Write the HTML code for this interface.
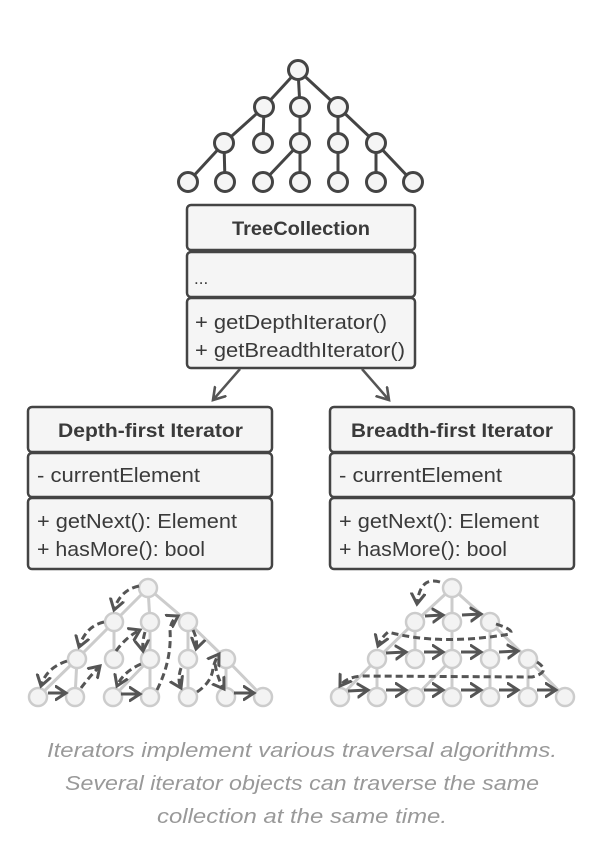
<!DOCTYPE html>
<html><head><meta charset="utf-8"><style>
html,body{margin:0;padding:0;background:#fff;width:601px;height:848px;overflow:hidden}
svg{display:block}
text{font-family:"Liberation Sans","DejaVu Sans",sans-serif;fill:#3a3a3a}
</style></head><body>
<svg width="601" height="848" viewBox="0 0 601 848" xmlns="http://www.w3.org/2000/svg">
<defs>
<marker id="ah" markerUnits="userSpaceOnUse" markerWidth="18" markerHeight="18" refX="11" refY="8" orient="auto">
<path d="M1,1.5 L11,8 L1,14.5" fill="none" stroke="#555" stroke-width="3" stroke-linecap="round"/>
</marker>
<marker id="ah2" markerUnits="userSpaceOnUse" markerWidth="20" markerHeight="20" refX="12" refY="8" orient="auto">
<path d="M1,1 L12,8 L1,15" fill="none" stroke="#555" stroke-width="2.6" stroke-linecap="round"/>
</marker>
</defs>

<!-- top tree -->
<g stroke="#444" stroke-width="3">
<line x1="298" y1="70" x2="264" y2="107"/><line x1="298" y1="70" x2="300" y2="107"/><line x1="298" y1="70" x2="338" y2="107"/>
<line x1="264" y1="107" x2="224" y2="143"/><line x1="264" y1="107" x2="263" y2="143"/>
<line x1="300" y1="107" x2="300" y2="143"/>
<line x1="338" y1="107" x2="338" y2="143"/><line x1="338" y1="107" x2="376" y2="143"/>
<line x1="224" y1="143" x2="188" y2="182"/><line x1="224" y1="143" x2="225" y2="182"/>
<line x1="300" y1="143" x2="263" y2="182"/><line x1="300" y1="143" x2="300" y2="182"/>
<line x1="338" y1="143" x2="338" y2="182"/>
<line x1="376" y1="143" x2="376" y2="182"/><line x1="376" y1="143" x2="413" y2="182"/>
</g>
<g stroke="#444" stroke-width="3" fill="#f5f5f5">
<circle cx="298" cy="70" r="9.5"/>
<circle cx="264" cy="107" r="9.5"/><circle cx="300" cy="107" r="9.5"/><circle cx="338" cy="107" r="9.5"/>
<circle cx="224" cy="143" r="9.5"/><circle cx="263" cy="143" r="9.5"/><circle cx="300" cy="143" r="9.5"/><circle cx="338" cy="143" r="9.5"/><circle cx="376" cy="143" r="9.5"/>
<circle cx="188" cy="182" r="9.5"/><circle cx="225" cy="182" r="9.5"/><circle cx="263" cy="182" r="9.5"/><circle cx="300" cy="182" r="9.5"/><circle cx="338" cy="182" r="9.5"/><circle cx="376" cy="182" r="9.5"/><circle cx="413" cy="182" r="9.5"/>
</g>

<!-- TreeCollection -->
<g stroke="#444" stroke-width="2.5" fill="#f5f5f5">
<rect x="187" y="205" width="228" height="45" rx="4"/>
<rect x="187" y="252" width="228" height="45" rx="4"/>
<rect x="187" y="298" width="228" height="70" rx="4"/>
</g>
<text x="232" y="235" font-size="19" font-weight="bold" textLength="138" lengthAdjust="spacingAndGlyphs">TreeCollection</text>
<text x="194" y="284" font-size="17">...</text>
<text x="195" y="329" font-size="20" textLength="192" lengthAdjust="spacingAndGlyphs">+ getDepthIterator()</text>
<text x="195" y="357" font-size="20" textLength="210" lengthAdjust="spacingAndGlyphs">+ getBreadthIterator()</text>

<!-- connectors -->
<line x1="240" y1="369" x2="213" y2="400" stroke="#555" stroke-width="2.5" marker-end="url(#ah2)"/>
<line x1="362" y1="369" x2="389" y2="400" stroke="#555" stroke-width="2.5" marker-end="url(#ah2)"/>

<!-- Iterator boxes -->
<g stroke="#444" stroke-width="2.5" fill="#f5f5f5">
<rect x="28" y="407" width="244" height="45" rx="4"/>
<rect x="28" y="453" width="244" height="44" rx="4"/>
<rect x="28" y="498" width="244" height="71" rx="4"/>
<rect x="330" y="407" width="244" height="45" rx="4"/>
<rect x="330" y="453" width="244" height="44" rx="4"/>
<rect x="330" y="498" width="244" height="71" rx="4"/>
</g>
<text x="58" y="437" font-size="19" font-weight="bold" textLength="185" lengthAdjust="spacingAndGlyphs">Depth-first Iterator</text>
<text x="37" y="482" font-size="20" textLength="163" lengthAdjust="spacingAndGlyphs">- currentElement</text>
<text x="37" y="528" font-size="20" textLength="200" lengthAdjust="spacingAndGlyphs">+ getNext(): Element</text>
<text x="37" y="556" font-size="20" textLength="168" lengthAdjust="spacingAndGlyphs">+ hasMore(): bool</text>
<text x="351" y="437" font-size="19" font-weight="bold" textLength="202" lengthAdjust="spacingAndGlyphs">Breadth-first Iterator</text>
<text x="339" y="482" font-size="20" textLength="163" lengthAdjust="spacingAndGlyphs">- currentElement</text>
<text x="339" y="528" font-size="20" textLength="200" lengthAdjust="spacingAndGlyphs">+ getNext(): Element</text>
<text x="339" y="556" font-size="20" textLength="168" lengthAdjust="spacingAndGlyphs">+ hasMore(): bool</text>

<!-- depth tree -->
<g stroke="#ccc" stroke-width="3">
<line x1="148" y1="588" x2="114" y2="622"/><line x1="148" y1="588" x2="150" y2="622"/><line x1="148" y1="588" x2="188" y2="622"/>
<line x1="114" y1="622" x2="77" y2="659"/><line x1="114" y1="622" x2="114" y2="659"/>
<line x1="150" y1="622" x2="150" y2="659"/>
<line x1="188" y1="622" x2="188" y2="659"/><line x1="188" y1="622" x2="226" y2="659"/>
<line x1="77" y1="659" x2="38" y2="697"/><line x1="77" y1="659" x2="75" y2="697"/>
<line x1="150" y1="659" x2="113" y2="697"/><line x1="150" y1="659" x2="150" y2="697"/>
<line x1="188" y1="659" x2="188" y2="697"/>
<line x1="226" y1="659" x2="226" y2="697"/><line x1="226" y1="659" x2="263" y2="697"/>
</g>
<g stroke="#ccc" stroke-width="2.5" fill="#f3f3f3">
<circle cx="148" cy="588" r="9"/>
<circle cx="114" cy="622" r="9"/><circle cx="150" cy="622" r="9"/><circle cx="188" cy="622" r="9"/>
<circle cx="77" cy="659" r="9"/><circle cx="114" cy="659" r="9"/><circle cx="150" cy="659" r="9"/><circle cx="188" cy="659" r="9"/><circle cx="226" cy="659" r="9"/>
<circle cx="38" cy="697" r="9"/><circle cx="75" cy="697" r="9"/><circle cx="113" cy="697" r="9"/><circle cx="150" cy="697" r="9"/><circle cx="188" cy="697" r="9"/><circle cx="226" cy="697" r="9"/><circle cx="263" cy="697" r="9"/>
</g>
<g stroke="#555" stroke-width="3" fill="none" stroke-dasharray="7,4" marker-end="url(#ah)">
<path d="M139,586 Q120,590 114,610"/>
<path d="M104,622 Q86,626 79,647"/>
<path d="M67,661 Q46,668 41,686"/>
<path d="M48,693 L66,693" stroke-dasharray="none"/>
<path d="M81,688 Q90,676 100,666"/>
<path d="M116,651 Q126,637 140,630"/>
<path d="M145,632 Q142,642 143,651"/>
<path d="M141,664 Q123,672 117,686"/>
<path d="M121,694 L140,694" stroke-dasharray="none"/>
<path d="M157,690 Q172,660 170,630 Q171,620 178,616"/>
<path d="M193,630 Q198,640 196,649"/>
<path d="M181,668 Q177,680 181,688"/>
<path d="M197,692 Q212,682 213,668 Q215,660 219,654"/>
<path d="M215,664 Q218,680 224,689"/>
<path d="M234,693 L254,693" stroke-dasharray="none"/>
</g>

<!-- breadth tree -->
<g stroke="#ccc" stroke-width="3">
<line x1="452" y1="588" x2="415" y2="622"/><line x1="452" y1="588" x2="452" y2="622"/><line x1="452" y1="588" x2="490" y2="622"/>
<line x1="415" y1="622" x2="377" y2="659"/><line x1="415" y1="622" x2="415" y2="659"/>
<line x1="452" y1="622" x2="452" y2="659"/>
<line x1="490" y1="622" x2="490" y2="659"/><line x1="490" y1="622" x2="528" y2="659"/>
<line x1="377" y1="659" x2="340" y2="697"/><line x1="377" y1="659" x2="377" y2="697"/>
<line x1="452" y1="659" x2="415" y2="697"/><line x1="452" y1="659" x2="452" y2="697"/>
<line x1="490" y1="659" x2="490" y2="697"/>
<line x1="528" y1="659" x2="528" y2="697"/><line x1="528" y1="659" x2="565" y2="697"/>
</g>
<g stroke="#ccc" stroke-width="2.5" fill="#f3f3f3">
<circle cx="452" cy="588" r="9"/>
<circle cx="415" cy="622" r="9"/><circle cx="452" cy="622" r="9"/><circle cx="490" cy="622" r="9"/>
<circle cx="377" cy="659" r="9"/><circle cx="415" cy="659" r="9"/><circle cx="452" cy="659" r="9"/><circle cx="490" cy="659" r="9"/><circle cx="528" cy="659" r="9"/>
<circle cx="340" cy="697" r="9"/><circle cx="377" cy="697" r="9"/><circle cx="415" cy="697" r="9"/><circle cx="452" cy="697" r="9"/><circle cx="490" cy="697" r="9"/><circle cx="528" cy="697" r="9"/><circle cx="565" cy="697" r="9"/>
</g>
<g stroke="#555" stroke-width="3" fill="none" marker-end="url(#ah)">
<path d="M440,582 Q420,576 417,604" stroke-dasharray="7,4"/>
<path d="M496,624 Q515,630 510,634 Q440,646 388,632 Q381,638 378,646" stroke-dasharray="7,4"/>
<path d="M537,662 Q552,672 532,677 L362,676 Q346,677 340,686" stroke-dasharray="7,4"/>
<path d="M425,616 L443,615"/><path d="M462,615 L481,614"/>
<path d="M386,653 L406,652"/><path d="M424,652 L443,652"/><path d="M461,652 L481,652"/><path d="M499,652 L518,651"/>
<path d="M348,691 L368,690"/><path d="M386,690 L406,690"/><path d="M424,690 L443,690"/><path d="M461,690 L481,690"/><path d="M499,690 L518,690"/><path d="M537,690 L556,690"/>
</g>

<!-- caption -->
<g font-size="20" font-style="italic" text-anchor="middle">
<text x="302" y="757" style="fill:#999" textLength="510" lengthAdjust="spacingAndGlyphs">Iterators implement various traversal algorithms.</text>
<text x="302" y="790" style="fill:#999" textLength="474" lengthAdjust="spacingAndGlyphs">Several iterator objects can traverse the same</text>
<text x="302" y="823" style="fill:#999" textLength="290" lengthAdjust="spacingAndGlyphs">collection at the same time.</text>
</g>
</svg>
</body></html>
